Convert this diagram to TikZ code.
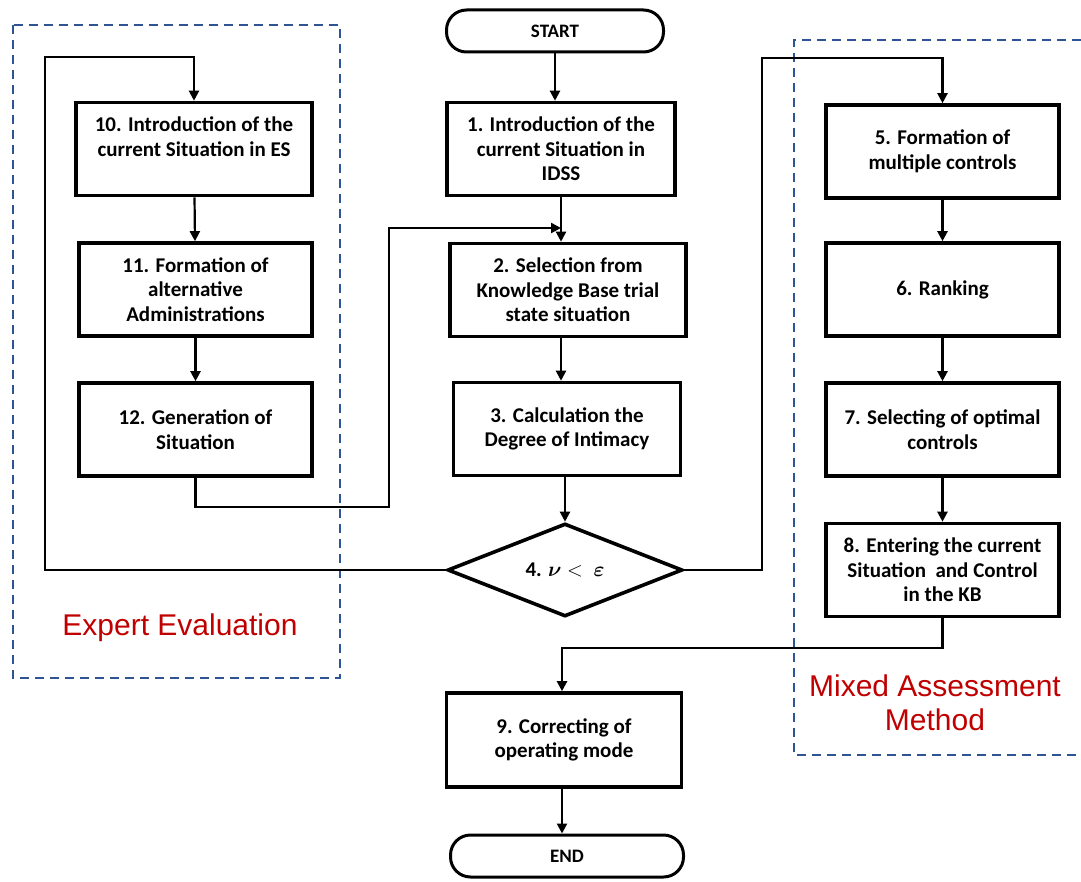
\documentclass[tikz,border=0pt]{standalone}
\usepackage{fontspec}
\setmainfont{Carlito}
\newfontfamily\labelfont{Liberation Sans}
\usepackage{bm}
\usetikzlibrary{arrows.meta,shapes.geometric}
\definecolor{groupblue}{RGB}{47,84,150}
\definecolor{groupred}{RGB}{192,0,0}

\begin{document}
\begin{tikzpicture}[x=1pt,y=-1pt,
  box/.style={draw, line width=3.6pt, rectangle, minimum width=233pt, minimum height=93pt,
    align=center, inner sep=0pt, font=\fontsize{21}{24.5}\selectfont\bfseries},
  term/.style={draw, line width=3pt, rounded corners=20pt, minimum width=217pt,
    minimum height=42pt, inner sep=0pt, font=\fontsize{19}{22}\selectfont\bfseries},
  decision/.style={draw, diamond, aspect=2.53, line width=3.6pt, minimum width=235pt,
    minimum height=93pt, inner sep=0pt, font=\fontsize{21}{24.5}\selectfont\bfseries},
  flow/.style={line width=2.2pt, -{Triangle[length=10pt,width=10pt]}},
  group/.style={draw=groupblue, line width=2pt, dash pattern=on 9pt off 6pt},
  grouplabel/.style={text=groupred, font=\labelfont\fontsize{30}{34}\selectfont, align=center}
]
\useasboundingbox (0,0) rectangle (1081,882);

% dashed group frames
\draw[group] (13,25) rectangle (340,678);
\draw[group] (1081,40) -- (794,40) -- (794,755) -- (1081,755);
\node[grouplabel] (lblexpert) at (180,628) {Expert Evaluation};
\node[grouplabel] (lblmixed) at (935,703) {Mixed Assessment\\Method};

% main column
\node[term] (start) at (555,31) {START};
\node[box, minimum width=228pt] (b1) at (561,149) {1. Introduction of the\\current Situation in\\IDSS};
\node[box, minimum width=236pt] (b2) at (568,290) {2. Selection from\\Knowledge Base trial\\state situation};
\node[box, minimum width=227pt] (b3) at (567,429) {3. Calculation the\\Degree of Intimacy};
\node[decision] (d4) at (565,570) {4. $\bm{\nu} <\ \bm{\varepsilon}$};
\node[box, minimum width=235pt, minimum height=94pt] (b9) at (564,740) {9. Correcting of\\operating mode};
\node[term, minimum width=233pt] (end) at (567,856) {END};

% expert evaluation column
\node[box, minimum width=236pt] (b10) at (194,149) {10. Introduction of the\\current Situation in ES\\\mbox{}};
\node[box] (b11) at (195.5,289.5) {11. Formation of\\alternative\\Administrations};
\node[box] (b12) at (195.5,429.5) {12. Generation of\\Situation};

% mixed assessment column
\node[box] (b5) at (942.5,151.5) {5. Formation of\\multiple controls};
\node[box] (b6) at (942.5,289.5) {6. Ranking};
\node[box] (b7) at (942.5,429.5) {7. Selecting of optimal\\controls};
\node[box] (b8) at (942.5,570) {8. Entering the current\\Situation\ \ and Control\\in the KB};

% bend points of the routed connectors
\coordinate (loopL) at (45,57);
\coordinate (loopR) at (762,58);
\coordinate (joinA) at (389,507);
\coordinate (joinB) at (561,228);
\coordinate (exitK) at (562,648);

% connectors
\draw[flow] (start) -- (start |- b1.north);
\draw[flow] (b1.south) -- (b1.south |- b2.north);
\draw[flow] (b1.south |- b2.south) -- (b1.south |- b3.north);
\draw[flow] (b3.south -| d4.north) -- (d4.north);
\draw[flow] (d4.west) -| (loopL) -| (b10.north);
\draw[flow] (d4.east) -| (loopR) -| (b5.north);
\draw[flow] (b10) -- (b11);
\draw[flow] (b11) -- (b12);
\draw[flow] (b12.south) |- (joinA) |- (joinB);
\draw[flow] (b5) -- (b6);
\draw[flow] (b6) -- (b7);
\draw[flow] (b7) -- (b8);
\draw[flow] (b8.south) |- (exitK) -- (exitK |- b9.north);
\draw[flow] (exitK |- b9.south) -- (exitK |- end.north);
\end{tikzpicture}
\end{document}
